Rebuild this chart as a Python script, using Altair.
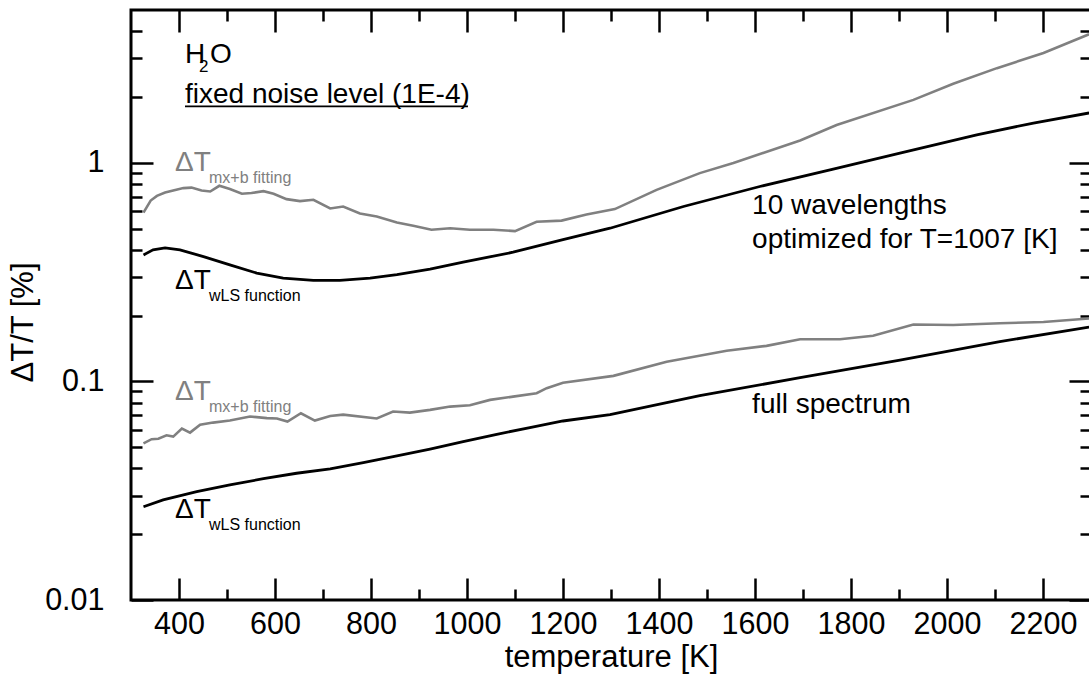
import altair as alt
import pandas as pd

FONT = "Liberation Sans"
GRAY = "#808080"

# ---- ΔT/T [%] versus temperature [K] for H2O at a fixed noise level (1E-4) ----
# 10 wavelengths optimized for T=1007 K: straight-line (mx+b) fitting
fit10_T = [326, 341, 354, 371, 388, 409, 426, 447, 465, 484, 506, 531, 551, 576, 597,
           624, 652, 680, 715, 742, 777, 812, 854, 888, 926, 965, 1006, 1055, 1100,
           1145, 1197, 1249, 1308, 1395, 1485, 1555, 1694, 1770, 1930, 2013, 2104,
           2201, 2296]
fit10_v = [0.592, 0.672, 0.706, 0.731, 0.747, 0.766, 0.770, 0.747, 0.739, 0.785, 0.758,
           0.722, 0.727, 0.742, 0.722, 0.682, 0.668, 0.677, 0.618, 0.631, 0.586, 0.568,
           0.533, 0.515, 0.494, 0.502, 0.494, 0.494, 0.487, 0.537, 0.544, 0.580, 0.614,
           0.752, 0.897, 0.997, 1.265, 1.49, 1.94, 2.30, 2.71, 3.18, 3.87]

# 10 wavelengths: weighted least-squares function
wls10_T = [326, 346, 371, 402, 451, 506, 562, 617, 680, 735, 798, 854, 923, 992, 1096,
           1200, 1298, 1451, 1610, 1763, 1902, 2062, 2180, 2296]
wls10_v = [0.379, 0.400, 0.408, 0.400, 0.372, 0.341, 0.313, 0.297, 0.290, 0.290, 0.297,
           0.308, 0.326, 0.351, 0.390, 0.445, 0.502, 0.631, 0.779, 0.936, 1.107, 1.343,
           1.52, 1.69]

# full spectrum: straight-line (mx+b) fitting
fitfull_T = [326, 343, 357, 374, 388, 406, 423, 444, 471, 506, 548, 583, 604, 626, 654,
             683, 715, 742, 812, 846, 881, 923, 965, 1006, 1048, 1096, 1145, 1166, 1200,
             1305, 1416, 1541, 1624, 1694, 1777, 1846, 1930, 2013, 2110, 2201, 2296]
fitfull_v = [0.0521, 0.0544, 0.0547, 0.0567, 0.0559, 0.0608, 0.0583, 0.0634, 0.0648,
             0.0662, 0.0691, 0.0679, 0.0677, 0.0655, 0.0715, 0.0662, 0.0695, 0.0705,
             0.0677, 0.0728, 0.0720, 0.0741, 0.0767, 0.0778, 0.0823, 0.0852, 0.0883,
             0.0931, 0.0985, 0.106, 0.123, 0.138, 0.1454, 0.156, 0.156, 0.1616, 0.182,
             0.181, 0.1846, 0.187, 0.194]

# full spectrum: weighted least-squares function
wlsfull_T = [326, 367, 437, 506, 576, 645, 715, 784, 854, 923, 992, 1062, 1131, 1200,
             1298, 1485, 1694, 1902, 2110, 2296]
wlsfull_v = [0.0267, 0.0287, 0.0313, 0.0336, 0.0359, 0.0380, 0.0398, 0.0425, 0.0456,
             0.0490, 0.0530, 0.0573, 0.0615, 0.0659, 0.0705, 0.0860, 0.104, 0.125,
             0.152, 0.177]

# axis ticks
x_major = [400, 600, 800, 1000, 1200, 1400, 1600, 1800, 2000, 2200]
x_minor = [500, 700, 900, 1100, 1300, 1500, 1700, 1900, 2100]
y_major = [0.01, 0.1, 1]
y_minor = [0.02, 0.03, 0.04, 0.05, 0.06, 0.07, 0.08, 0.09,
           0.2, 0.3, 0.4, 0.5, 0.6, 0.7, 0.8, 0.9, 2, 3, 4]

# annotation text, anchored in data coordinates (temperature, ΔT/T)
big_text = ["H", "O", "fixed noise level (1E-4)", "10 wavelengths",
            "optimized for T=1007 [K]", "full spectrum"]
big_T = [412.5, 464.6, 412.5, 1594, 1594, 1594]
big_v = [2.861, 2.861, 1.878, 0.583, 0.4076, 0.0717]

delta_text = ["ΔT", "ΔT", "ΔT", "ΔT"]
delta_T = [391.7, 391.7, 391.7, 391.7]
delta_v = [0.917, 0.2647, 0.0822, 0.0237]
delta_sub = ["mx+b fitting", "wLS function", "mx+b fitting", "wLS function"]
delta_gray = [True, False, True, False]

sub2_T = [441.7]
sub2_v = [2.60]

underline_T = [412.5]
underline_T2 = [1002]
underline_v = [1.81]

xscale = alt.Scale(domain=[300, 2300], nice=False, zero=False)
yscale = alt.Scale(type="log", domain=[0.01, 5], nice=False)

MAJ, MIN = 22, 11


def tick_axis(orient, values, size, **kw):
    return alt.Axis(orient=orient, values=values, tickSize=size, offset=-size,
                    domain=False, grid=False, labels=kw.pop("labels", False),
                    title=kw.pop("title", None), **kw)


ax_bottom = tick_axis("bottom", x_major, MAJ, labels=True, title="temperature [K]",
                      labelPadding=9, titlePadding=3, format="d",
                      labelOverlap=False, labelFlush=False)
ax_bottom_min = tick_axis("bottom", x_minor, MIN)
ax_top = tick_axis("top", x_major, MAJ)
ax_top_min = tick_axis("top", x_minor, MIN)
ax_left = tick_axis("left", y_major, MAJ, labels=True, title="ΔT/T [%]",
                    labelPadding=27, titlePadding=5, titleY=312, format="~g",
                    labelOverlap=False, labelFlush=False)
ax_left_min = tick_axis("left", y_minor, MIN)
ax_right = tick_axis("right", y_major, MAJ)
ax_right_min = tick_axis("right", y_minor, MIN)


def series(T, v, color, width, xaxis, yaxis):
    df = pd.DataFrame({"T": T, "v": v})
    return alt.Chart(df).mark_line(color=color, strokeWidth=width, clip=True).encode(
        x=alt.X("T:Q", scale=xscale, axis=xaxis),
        y=alt.Y("v:Q", scale=yscale, axis=yaxis),
    )


lines = [
    series(wls10_T, wls10_v, "black", 2.8, ax_bottom, ax_left),
    series(fit10_T, fit10_v, GRAY, 2.6, ax_bottom_min, ax_left_min),
    series(wlsfull_T, wlsfull_v, "black", 2.8, ax_top, ax_right),
    series(fitfull_T, fitfull_v, GRAY, 2.6, ax_top_min, ax_right_min),
]


def pos():
    return dict(x=alt.X("T:Q", scale=xscale, axis=None),
                y=alt.Y("v:Q", scale=yscale, axis=None))


big_df = pd.DataFrame({"T": big_T, "v": big_v, "label": big_text})
big = alt.Chart(big_df).mark_text(font=FONT, fontSize=28, align="left",
                                  baseline="alphabetic", color="black").encode(
    text="label:N", **pos())

sub2_df = pd.DataFrame({"T": sub2_T, "v": sub2_v, "label": ["2"]})
sub2 = alt.Chart(sub2_df).mark_text(font=FONT, fontSize=17, align="left",
                                    baseline="alphabetic", color="black").encode(
    text="label:N", **pos())

under_df = pd.DataFrame({"T": underline_T, "T2": underline_T2, "v": underline_v})
under = alt.Chart(under_df).mark_rule(color="black", strokeWidth=1.8).encode(
    x=alt.X("T:Q", scale=xscale, axis=None), x2="T2:Q",
    y=alt.Y("v:Q", scale=yscale, axis=None))

delta_df = pd.DataFrame({"T": delta_T, "v": delta_v, "label": delta_text,
                         "sub": delta_sub, "gray": delta_gray})
color_cond = alt.condition("datum.gray", alt.value(GRAY), alt.value("black"))
delta = alt.Chart(delta_df).mark_text(font=FONT, fontSize=28, align="left",
                                      baseline="alphabetic").encode(
    text="label:N", color=color_cond, **pos())
delta_s = alt.Chart(delta_df).mark_text(font=FONT, fontSize=16, align="left",
                                        baseline="alphabetic", dx=34, dy=12).encode(
    text="sub:N", color=color_cond, **pos())

chart = alt.layer(*lines, big, sub2, under, delta, delta_s).resolve_axis(
    x="independent", y="independent"
).properties(
    width=960, height=590,
    padding={"left": 131, "top": 10, "right": -2, "bottom": 77},
    autosize=alt.AutoSizeParams(type="none"),
    background="white",
).configure_view(
    stroke="black", strokeWidth=3
).configure_axis(
    labelFont=FONT, labelFontSize=30.5, labelColor="black",
    titleFont=FONT, titleFontSize=31, titleFontWeight="normal", titleColor="black",
    tickColor="black", tickWidth=2.5,
)

chart.save("out.html", embed_options={"renderer": "svg", "actions": False})
